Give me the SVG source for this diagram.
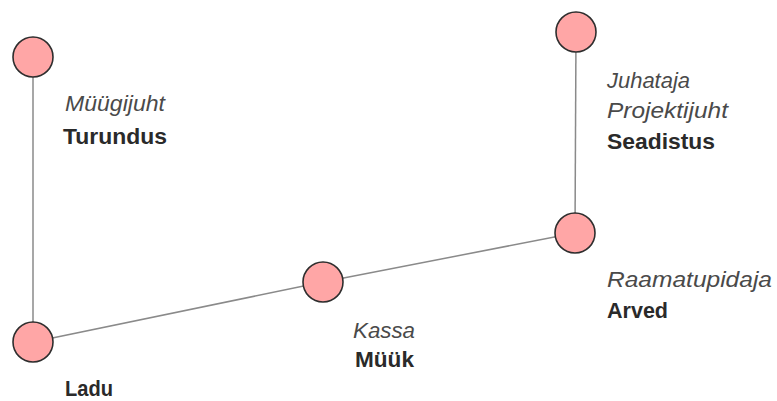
<svg xmlns="http://www.w3.org/2000/svg" width="777" height="401" viewBox="0 0 777 401">
  <style>
    .edge { stroke: #8a8a8a; stroke-width: 1.5; fill: none; }
    .dot { fill: #ffa6a6; stroke: #2e2e2e; stroke-width: 1.6; }
    .role { font-family: "Liberation Sans", Arial, sans-serif; font-size: 22px; font-style: italic; fill: #4a4a4a; }
    .dept { font-family: "Liberation Sans", Arial, sans-serif; font-size: 22px; font-weight: bold; fill: #2a2a2a; }
  </style>
  <rect width="777" height="401" fill="#ffffff"/>

  <g id="connectors">
    <line class="edge" x1="33" y1="57" x2="33" y2="342"/>
    <line class="edge" x1="33" y1="342" x2="323" y2="282"/>
    <line class="edge" x1="323" y1="282" x2="575" y2="233"/>
    <line class="edge" x1="576" y1="32" x2="575" y2="233"/>
  </g>

  <g id="turundus">
    <circle class="dot" cx="33" cy="57" r="20"/>
    <text class="role" x="65" y="111" textLength="100" lengthAdjust="spacingAndGlyphs">Müügijuht</text>
    <text class="dept" x="63" y="144" textLength="104" lengthAdjust="spacingAndGlyphs">Turundus</text>
  </g>

  <g id="ladu">
    <circle class="dot" cx="33" cy="342" r="20"/>
    <text class="dept" x="65" y="396" textLength="48" lengthAdjust="spacingAndGlyphs">Ladu</text>
  </g>

  <g id="myyk">
    <circle class="dot" cx="323" cy="282" r="20"/>
    <text class="role" x="353" y="338" textLength="62" lengthAdjust="spacingAndGlyphs">Kassa</text>
    <text class="dept" x="355" y="367" textLength="59" lengthAdjust="spacingAndGlyphs">Müük</text>
  </g>

  <g id="arved">
    <circle class="dot" cx="575" cy="233" r="20"/>
    <text class="role" x="607" y="287" textLength="165" lengthAdjust="spacingAndGlyphs">Raamatupidaja</text>
    <text class="dept" x="607" y="318" textLength="61" lengthAdjust="spacingAndGlyphs">Arved</text>
  </g>

  <g id="seadistus">
    <circle class="dot" cx="576" cy="32" r="20"/>
    <text class="role" x="607" y="88" textLength="83" lengthAdjust="spacingAndGlyphs">Juhataja</text>
    <text class="role" x="607" y="118" textLength="121" lengthAdjust="spacingAndGlyphs">Projektijuht</text>
    <text class="dept" x="607" y="149" textLength="108" lengthAdjust="spacingAndGlyphs">Seadistus</text>
  </g>
</svg>
